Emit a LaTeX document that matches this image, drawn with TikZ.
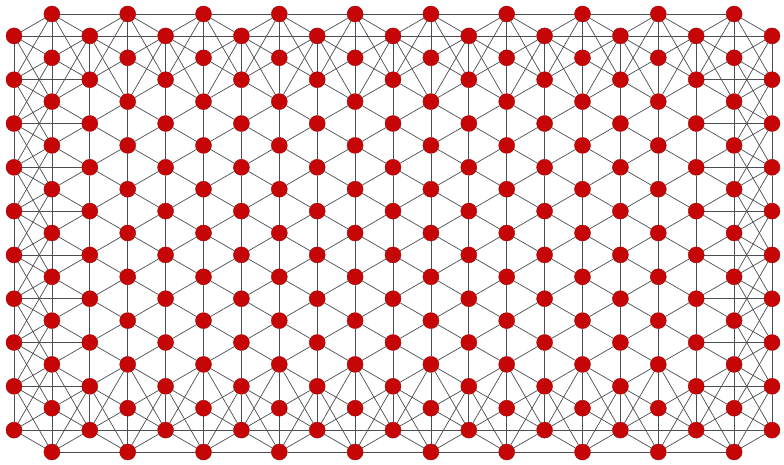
\documentclass[tikz,border=0pt]{standalone}
\usetikzlibrary{backgrounds}
\definecolor{nodered}{RGB}{198,6,6}
\definecolor{edgegray}{RGB}{75,78,82}
\begin{document}
\begin{tikzpicture}[x=1pt,y=1pt,
  dot/.style={circle,fill=nodered,draw=nodered!80!black,line width=0.4pt,inner sep=0pt,minimum size=16pt},
  edge/.style={draw=edgegray,line width=0.7pt}]
\useasboundingbox (0,0) rectangle (784,-464);
% nodes of the triangular mesh: column c, half-row h
\foreach \c in {0,...,20}{
  \foreach \h in {0,...,20}{
    \pgfmathtruncatemacro\pp{mod(\c+\h,2)}
    \ifnum\pp=1
      \node[dot] (n-\c-\h) at ({14+\c*37.9},{-14-\h*21.9}) {};
    \fi
  }
}
% connectors
\begin{scope}[on background layer]
\fill[white] (0,0) rectangle (784,-464);
\foreach \c in {0,...,20}{
  \foreach \h in {0,...,20}{
    \pgfmathtruncatemacro\pp{mod(\c+\h,2)}
    \ifnum\pp=1
      \pgfmathtruncatemacro\bs{(\c==0)||(\c==20)||(\h<2)||(\h>18)}
      \foreach \dc/\dh/\kind in {0/2/1,1/1/1,1/-1/1,2/0/2,1/3/2,1/-3/2}{
        \pgfmathtruncatemacro\cc{\c+\dc}
        \pgfmathtruncatemacro\hh{\h+\dh}
        \pgfmathtruncatemacro\ok{(\cc<=20)&&(\hh>=0)&&(\hh<=20)}
        \ifnum\ok=1
          \ifnum\kind=1
            \draw[edge] (n-\c-\h) -- (n-\cc-\hh);
          \else
            \pgfmathtruncatemacro\bt{(\cc==0)||(\cc==20)||(\hh<2)||(\hh>18)}
            \pgfmathtruncatemacro\anyb{\bs+\bt}
            \ifnum\anyb>0
              \draw[edge] (n-\c-\h) -- (n-\cc-\hh);
            \fi
          \fi
        \fi
      }
    \fi
  }
}
\end{scope}
\end{tikzpicture}
\end{document}
